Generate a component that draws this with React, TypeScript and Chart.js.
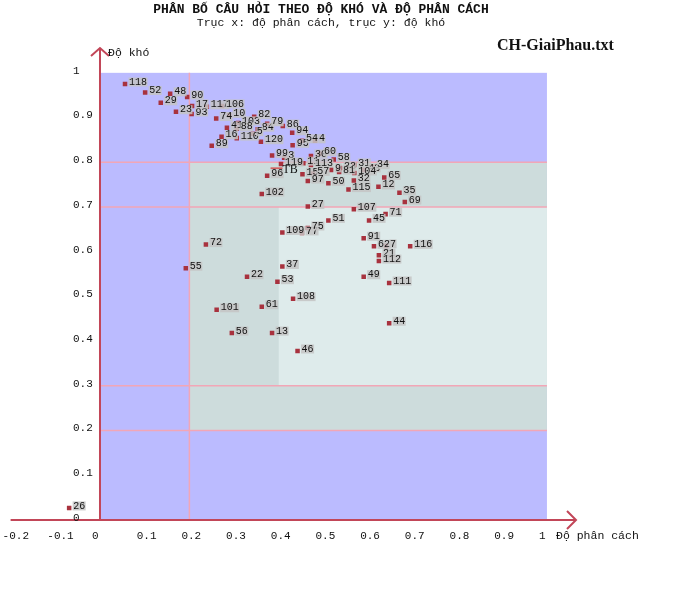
import React, { useEffect, useRef } from "react";
import { Chart, registerables } from "chart.js";

Chart.register(...registerables);

// question number, discrimination (x), difficulty (y)
const questionIds = [
  "118", "52", "48", "90", "29", "23", "93", "17", "117", "106",
  "74", "10", "41", "103", "88", "82", "84", "79", "86", "94",
  "16", "110", "5", "120", "89", "95", "54", "4", "99", "3",
  "30", "60", "119", "11", "113", "58", "9", "33", "31", "43",
  "34", "96", "15", "57", "81", "104", "65", "97", "50", "32",
  "115", "12", "35", "69", "102", "27", "107", "51", "45", "71",
  "109", "77", "75", "91", "62", "7", "21", "112", "116", "72",
  "55", "37", "22", "53", "49", "111", "108", "101", "61", "56",
  "13", "44", "46", "26",
];
const discrimination = [
  0.056, 0.101, 0.157, 0.195, 0.136, 0.17, 0.205, 0.206, 0.239, 0.273,
  0.26, 0.289, 0.284, 0.309, 0.306, 0.345, 0.353, 0.374, 0.409, 0.43,
  0.272, 0.306, 0.342, 0.36, 0.25, 0.431, 0.452, 0.481, 0.385, 0.412,
  0.472, 0.492, 0.405, 0.455, 0.472, 0.523, 0.517, 0.537, 0.569, 0.591,
  0.611, 0.374, 0.453, 0.477, 0.535, 0.569, 0.636, 0.465, 0.511, 0.568,
  0.556, 0.623, 0.67, 0.682, 0.362, 0.465, 0.568, 0.511, 0.602, 0.639,
  0.408, 0.452, 0.465, 0.59, 0.613, 0.64, 0.624, 0.624, 0.694, 0.237,
  0.192, 0.408, 0.329, 0.397, 0.59, 0.647, 0.432, 0.261, 0.362, 0.295,
  0.385, 0.647, 0.442, -0.069,
];
const difficulty = [
  0.975, 0.956, 0.953, 0.946, 0.933, 0.913, 0.908, 0.926, 0.924, 0.926,
  0.898, 0.905, 0.877, 0.888, 0.875, 0.902, 0.874, 0.886, 0.881, 0.866,
  0.857, 0.854, 0.864, 0.846, 0.837, 0.838, 0.848, 0.848, 0.815, 0.81,
  0.814, 0.819, 0.796, 0.798, 0.794, 0.806, 0.783, 0.787, 0.794, 0.783,
  0.79, 0.77, 0.773, 0.775, 0.778, 0.776, 0.766, 0.758, 0.753, 0.759,
  0.739, 0.745, 0.732, 0.711, 0.729, 0.701, 0.695, 0.67, 0.67, 0.684,
  0.643, 0.642, 0.653, 0.63, 0.612, 0.613, 0.592, 0.579, 0.612, 0.616,
  0.563, 0.567, 0.544, 0.533, 0.544, 0.53, 0.495, 0.47, 0.477, 0.418,
  0.418, 0.44, 0.378, 0.027,
];

// average point ("TB")
const meanLabel = "TB";
const meanDiscrimination = [0.395];
const meanDifficulty = [0.787];

const xTicks = [-0.2, -0.1, 0, 0.1, 0.2, 0.3, 0.4, 0.5, 0.6, 0.7, 0.8, 0.9, 1];
const yTicks = [0, 0.1, 0.2, 0.3, 0.4, 0.5, 0.6, 0.7, 0.8, 0.9, 1];

// zones: [xFrom, xTo, yFrom, yTo]
const fullZone = [0, 1, 0, 1];
const goodZone = [0.2, 1, 0.2, 0.8];
const bestZone = [0.4, 1, 0.3, 0.7];
const guideY = [0.2, 0.3, 0.7, 0.8];
const guideX = [0.2];

const TITLE = "PHÂN BỐ CÂU HỎI THEO ĐỘ KHÓ VÀ ĐỘ PHÂN CÁCH";
const SUBTITLE = "Trục x: độ phân cách, trục y: độ khó";
const FILE_NAME = "CH-GiaiPhau.txt";
const X_TITLE = "Độ phân cách";
const Y_TITLE = "Độ khó";

const MONO = "'Liberation Mono', 'DejaVu Sans Mono', monospace";
const AXIS = "#c24658";
const PINK = "#f2a6b6";

const backdrop = {
  id: "backdrop",
  beforeDatasetsDraw(chart: any) {
    const { ctx } = chart;
    const x = chart.scales.x;
    const y = chart.scales.y;
    const zone = (z: number[], color: string) => {
      const l = x.getPixelForValue(z[0]);
      const r = x.getPixelForValue(z[1]);
      const t = y.getPixelForValue(z[3]);
      const b = y.getPixelForValue(z[2]);
      ctx.fillStyle = color;
      ctx.fillRect(l, t, r - l, b - t);
    };
    ctx.save();
    zone(fullZone, "#bbbbff");
    zone(goodZone, "#cddcdc");
    zone(bestZone, "#deebeb");

    ctx.strokeStyle = PINK;
    ctx.lineWidth = 1.5;
    guideY.forEach((v) => {
      const py = y.getPixelForValue(v);
      ctx.beginPath();
      ctx.moveTo(x.getPixelForValue(0), py);
      ctx.lineTo(x.getPixelForValue(1), py);
      ctx.stroke();
    });
    guideX.forEach((v) => {
      const px = x.getPixelForValue(v);
      ctx.beginPath();
      ctx.moveTo(px, y.getPixelForValue(0));
      ctx.lineTo(px, y.getPixelForValue(1));
      ctx.stroke();
    });

    // axes with arrows
    const x0 = x.getPixelForValue(0);
    const y0 = y.getPixelForValue(0);
    const xEnd = x.getPixelForValue(x.max);
    const yEnd = y.getPixelForValue(y.max) + 2;
    ctx.strokeStyle = AXIS;
    ctx.lineWidth = 2;
    ctx.beginPath();
    ctx.moveTo(x.getPixelForValue(x.min), y0);
    ctx.lineTo(xEnd, y0);
    ctx.moveTo(x0, y0);
    ctx.lineTo(x0, yEnd);
    ctx.stroke();
    ctx.beginPath();
    ctx.moveTo(xEnd - 9, y0 - 9);
    ctx.lineTo(xEnd, y0);
    ctx.lineTo(xEnd - 9, y0 + 9);
    ctx.moveTo(x0 - 9, yEnd + 8);
    ctx.lineTo(x0, yEnd);
    ctx.lineTo(x0 + 9, yEnd + 8);
    ctx.stroke();

    // tick labels
    ctx.fillStyle = "#111";
    ctx.font = `11px ${MONO}`;
    ctx.textBaseline = "middle";
    ctx.textAlign = "left";
    xTicks.forEach((v) => {
      ctx.fillText(String(v), x.getPixelForValue(v) - 8, y0 + 16);
    });
    yTicks.forEach((v) => {
      ctx.fillText(String(v), 73, y.getPixelForValue(v) - 2);
    });
    ctx.font = `11.5px ${MONO}`;
    ctx.fillText(X_TITLE, xEnd - 20, y0 + 16);
    ctx.fillText(Y_TITLE, x0 + 8, yEnd + 5);

    // titles
    ctx.textAlign = "center";
    ctx.font = `bold 13px ${MONO}`;
    ctx.fillText(TITLE, 321, 10);
    ctx.font = `11.5px ${MONO}`;
    ctx.fillText(SUBTITLE, 321, 23);
    ctx.textAlign = "left";
    ctx.font = "bold 16px 'Liberation Serif', serif";
    ctx.fillText(FILE_NAME, 497, 46);
    ctx.restore();
  },
  afterDatasetsDraw(chart: any) {
    const { ctx } = chart;
    ctx.save();
    ctx.textBaseline = "middle";
    ctx.textAlign = "left";
    ctx.font = `10px ${MONO}`;
    chart.getDatasetMeta(0).data.forEach((pt: any, i: number) => {
      const text = questionIds[i];
      const w = ctx.measureText(text).width;
      const lx = pt.x + 3.5;
      const ly = pt.y - 2;
      ctx.fillStyle = "rgba(196,196,196,0.85)";
      ctx.fillRect(lx, ly - 4.5, w + 1, 9);
      ctx.fillStyle = "#111";
      ctx.fillText(text, lx + 0.5, ly);
    });
    const m = chart.getDatasetMeta(1).data[0];
    if (m) {
      ctx.font = "12px 'Liberation Serif', serif";
      ctx.fillStyle = "#111";
      ctx.fillText(meanLabel, m.x + 6, m.y + 2);
    }
    ctx.restore();
  },
};

export default function App() {
  const canvasRef = useRef<HTMLCanvasElement>(null);

  useEffect(() => {
    if (!canvasRef.current) return;
    const points = questionIds.map((_, i) => ({ x: discrimination[i], y: difficulty[i] }));
    const mean = meanDiscrimination.map((v, i) => ({ x: v, y: meanDifficulty[i] }));

    const chart = new Chart(canvasRef.current, {
      type: "scatter",
      data: {
        datasets: [
          {
            label: "questions",
            data: points,
            pointStyle: "rect",
            pointRadius: 3.2,
            backgroundColor: "#a8323e",
            borderWidth: 0,
          },
          {
            label: meanLabel,
            data: mean,
            pointStyle: "line",
            pointRadius: 6,
            borderColor: "#d23838",
            borderWidth: 1.2,
          },
        ],
      },
      options: {
        animation: false,
        responsive: true,
        maintainAspectRatio: false,
        events: [],
        layout: { padding: { left: 10.6, right: 112, top: 46, bottom: 84 } },
        plugins: {
          legend: { display: false },
          tooltip: { enabled: false },
        },
        scales: {
          x: { type: "linear", min: -0.2, max: 1.065, display: false },
          y: { type: "linear", min: 0, max: 1.06, display: false },
        },
      },
      plugins: [backdrop],
    });

    return () => {
      chart.destroy();
    };
  }, []);

  return (
    <div style={{ position: "fixed", left: 0, top: 0, width: 688, height: 604, background: "#fff" }}>
      <canvas ref={canvasRef} />
    </div>
  );
}
